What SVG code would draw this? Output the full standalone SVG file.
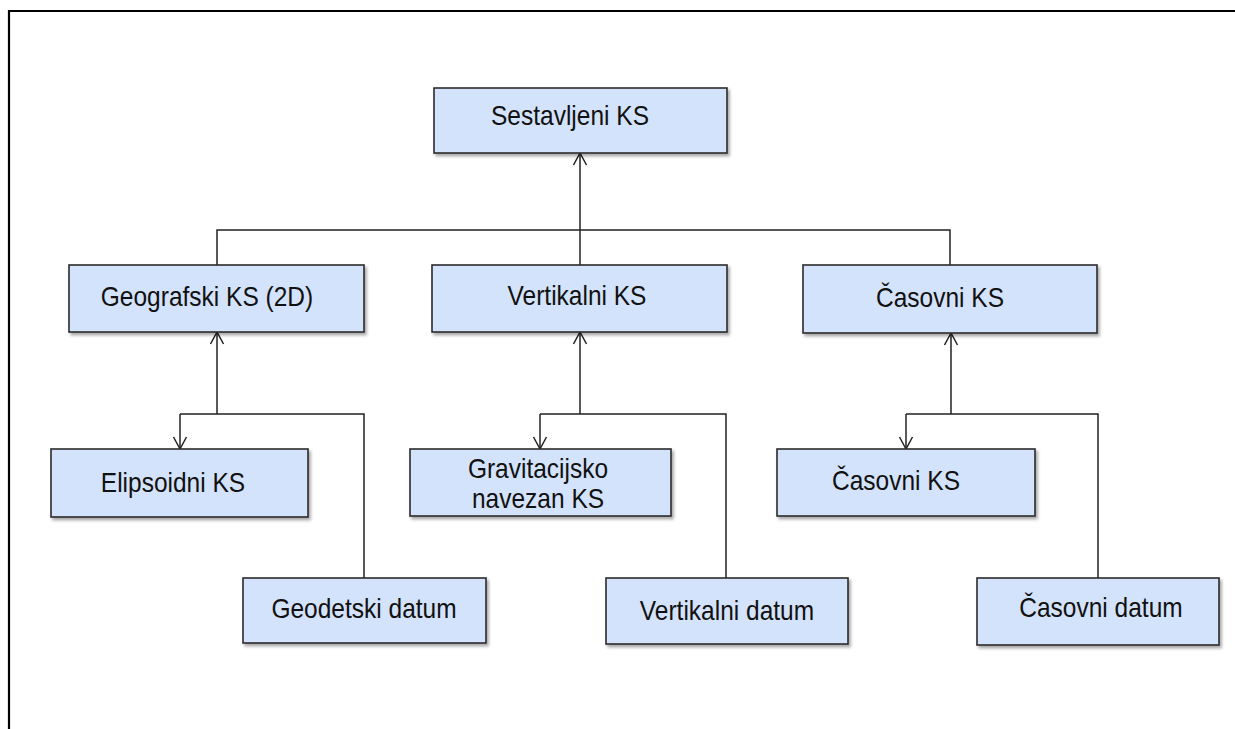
<svg xmlns="http://www.w3.org/2000/svg" width="1235" height="729" viewBox="0 0 1235 729">
  <style>
    .box { fill: #d4e3fc; stroke: #2b2b2b; stroke-width: 1.6; filter: url(#shadow); }
    .lbl { font-family: "Liberation Sans", Arial, sans-serif; font-size: 24.5px; fill: #111; text-anchor: middle; }
    .wire { fill: none; stroke: #222; stroke-width: 1.5; }
    .frame { fill: none; stroke: #000; stroke-width: 2.2; }
  </style>
  <defs>
    <filter id="shadow" x="-5%" y="-10%" width="115%" height="130%">
      <feDropShadow dx="2" dy="2.5" stdDeviation="1.5" flood-color="#000" flood-opacity="0.35"/>
    </filter>
    <marker id="vhead" markerUnits="userSpaceOnUse" markerWidth="16" markerHeight="16" refX="12" refY="7" orient="auto" overflow="visible">
      <path d="M0,0.5 L12,7 L0,13.5" fill="none" stroke="#222" stroke-width="1.5"/>
    </marker>
  </defs>

  <rect width="1235" height="729" fill="#fff"/>

  <!-- page frame -->
  <path class="frame" d="M9,729 V11 H1235"/>

  <!-- connectors -->
  <g id="connectors">
    <path class="wire" d="M580,265 V153" marker-end="url(#vhead)"/>
    <path class="wire" d="M217,265 V230 H950 V265"/>

    <path class="wire" d="M217,414 V332" marker-end="url(#vhead)"/>
    <path class="wire" d="M180,414 H364 V578"/>
    <path class="wire" d="M180,414 V449" marker-end="url(#vhead)"/>

    <path class="wire" d="M580,414 V332" marker-end="url(#vhead)"/>
    <path class="wire" d="M540,414 H726 V578"/>
    <path class="wire" d="M540,414 V449" marker-end="url(#vhead)"/>

    <path class="wire" d="M951,414 V333" marker-end="url(#vhead)"/>
    <path class="wire" d="M906,414 H1098 V578"/>
    <path class="wire" d="M906,414 V449" marker-end="url(#vhead)"/>
  </g>

  <!-- nodes -->
  <g id="sestavljeni-ks">
    <rect class="box" x="434" y="88" width="293" height="65"/>
    <text class="lbl" transform="matrix(1,0,0,1.1,570,125)">Sestavljeni KS</text>
  </g>

  <g id="geografski-ks">
    <rect class="box" x="69" y="265" width="295" height="67"/>
    <text class="lbl" transform="matrix(1,0,0,1.1,207,306)">Geografski KS (2D)</text>
  </g>

  <g id="vertikalni-ks">
    <rect class="box" x="432" y="265" width="295" height="67"/>
    <text class="lbl" transform="matrix(1,0,0,1.1,577,305)">Vertikalni KS</text>
  </g>

  <g id="casovni-ks-zgoraj">
    <rect class="box" x="803" y="265" width="294" height="68"/>
    <text class="lbl" transform="matrix(1,0,0,1.1,940,307)">Časovni KS</text>
  </g>

  <g id="elipsoidni-ks">
    <rect class="box" x="51" y="449" width="257" height="68"/>
    <text class="lbl" transform="matrix(1,0,0,1.1,173,492)">Elipsoidni KS</text>
  </g>

  <g id="gravitacijsko-navezan-ks">
    <rect class="box" x="410" y="449" width="261" height="67"/>
    <text class="lbl" transform="matrix(1,0,0,1.1,538,478)">Gravitacijsko</text>
    <text class="lbl" transform="matrix(1,0,0,1.1,538,508)">navezan KS</text>
  </g>

  <g id="casovni-ks-spodaj">
    <rect class="box" x="777" y="449" width="258" height="67"/>
    <text class="lbl" transform="matrix(1,0,0,1.1,896,490)">Časovni KS</text>
  </g>

  <g id="geodetski-datum">
    <rect class="box" x="243" y="578" width="243" height="65"/>
    <text class="lbl" transform="matrix(1,0,0,1.1,364,618)">Geodetski datum</text>
  </g>

  <g id="vertikalni-datum">
    <rect class="box" x="606" y="578" width="242" height="66"/>
    <text class="lbl" transform="matrix(1,0,0,1.1,727,620)">Vertikalni datum</text>
  </g>

  <g id="casovni-datum">
    <rect class="box" x="977" y="578" width="242" height="67"/>
    <text class="lbl" transform="matrix(1,0,0,1.1,1101,617)">Časovni datum</text>
  </g>
</svg>
